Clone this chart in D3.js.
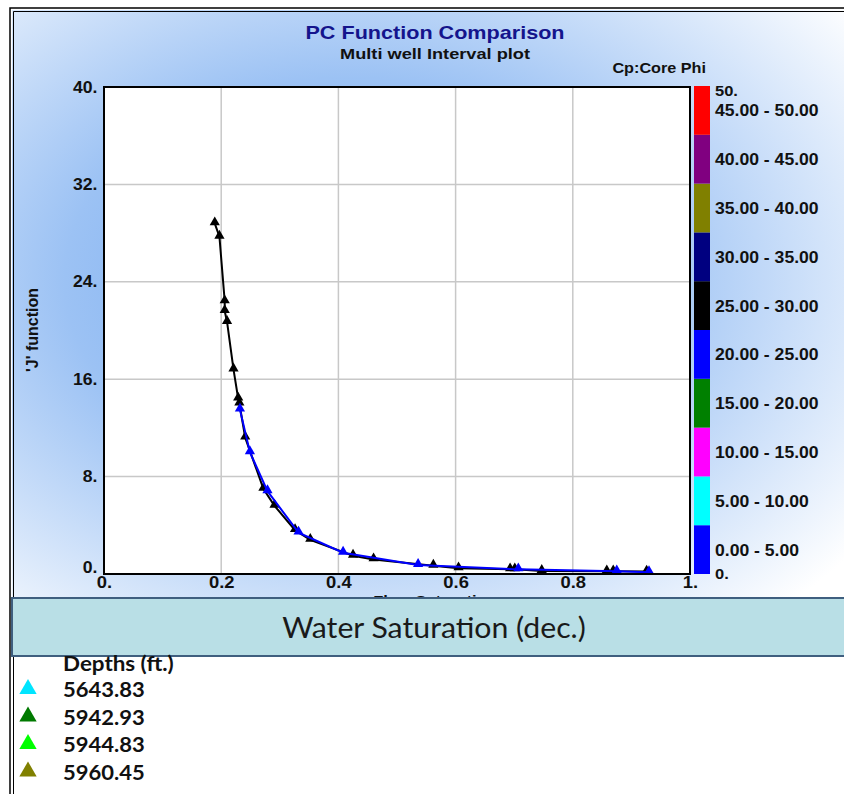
<!DOCTYPE html>
<html>
<head>
<meta charset="utf-8">
<script src="https://cdn.jsdelivr.net/npm/d3@7"></script>
<style>
  body { margin: 0; background: #fff; }
  svg text { font-family: "Liberation Sans", Arial, sans-serif; }
</style>
</head>
<body>
<div id="chart"></div>
<script>
// data
const blackSw = [0.189, 0.197, 0.206, 0.206, 0.210, 0.221, 0.229, 0.231, 0.241, 0.272, 0.291, 0.326, 0.352, 0.425, 0.46, 0.562, 0.605, 0.693, 0.701, 0.747, 0.858, 0.869, 0.926];
const blackJ = [28.8, 27.7, 22.4, 21.6, 20.7, 16.8, 14.4, 14.0, 11.2, 7.0, 5.6, 3.6, 2.8, 1.5, 1.2, 0.68, 0.47, 0.38, 0.38, 0.25, 0.22, 0.22, 0.2];
const blueSw = [0.232, 0.249, 0.279, 0.332, 0.408, 0.536, 0.707, 0.875, 0.93];
const blueJ = [13.5, 10.0, 6.8, 3.4, 1.75, 0.74, 0.38, 0.22, 0.15];

const xTicks = [0, 0.2, 0.4, 0.6, 0.8, 1];
const xTickLabels = ["0.", "0.2", "0.4", "0.6", "0.8", "1."];
const yTicks = [0, 8, 16, 24, 32, 40];
const yTickLabels = ["0.", "8.", "16.", "24.", "32.", "40."];

const phiBins = [0, 5, 10, 15, 20, 25, 30, 35, 40, 45];
const phiColors = ["#0000ff", "#00ffff", "#ff00ff", "#008000", "#0000ff", "#000000", "#000080", "#808000", "#800080", "#ff0000"];
const phiLabels = ["0.00 - 5.00", "5.00 - 10.00", "10.00 - 15.00", "15.00 - 20.00", "20.00 - 25.00", "25.00 - 30.00", "30.00 - 35.00", "35.00 - 40.00", "40.00 - 45.00", "45.00 - 50.00"];

const depths = ["5643.83", "5942.93", "5944.83", "5960.45"];
const depthColors = ["#00e5ff", "#007a00", "#00ff00", "#808000"];

const width = 844, height = 794;
const svg = d3.select("#chart").append("svg")
  .attr("width", width).attr("height", height);

// text helper, sx stretches the glyphs sideways like the original
function label(g, x, y, str, size, sx, anchor) {
  return g.append("text")
    .attr("transform", `translate(${x},${y}) scale(${sx},1)`)
    .attr("text-anchor", anchor || "start")
    .attr("font-size", size).attr("font-weight", "bold").attr("fill", "#111")
    .text(str);
}

const defs = svg.append("defs");
const grad = defs.append("radialGradient").attr("id", "bg")
  .attr("cx", "40%").attr("cy", "45%").attr("r", "75%");
grad.append("stop").attr("offset", "0%").attr("stop-color", "#6fa6f0");
grad.append("stop").attr("offset", "45%").attr("stop-color", "#9cc2f4");
grad.append("stop").attr("offset", "100%").attr("stop-color", "#ffffff");
defs.append("clipPath").attr("id", "above-band")
  .append("rect").attr("x", 0).attr("y", 0).attr("width", width).attr("height", 598);

// outer frame
svg.append("rect").attr("x", 12).attr("y", 10).attr("width", width).attr("height", 600)
  .attr("fill", "url(#bg)");
svg.append("path").attr("d", "M10,794V8H844").attr("fill", "none").attr("stroke", "#000").attr("stroke-width", 1.5);
svg.append("path").attr("d", "M13.5,794V11.5H844").attr("fill", "none").attr("stroke", "#000").attr("stroke-width", 1);

const m = { left: 104, top: 87, right: 690, bottom: 574 };
const x = d3.scaleLinear().domain([0, 1]).range([m.left, m.right]);
const y = d3.scaleLinear().domain([0, 40]).range([m.bottom, m.top]);

svg.append("rect").attr("x", m.left).attr("y", m.top)
  .attr("width", m.right - m.left).attr("height", m.bottom - m.top).attr("fill", "#fff");

// grid
svg.append("g").selectAll("line").data(xTicks.slice(1, -1)).join("line")
  .attr("x1", d => x(d)).attr("x2", d => x(d)).attr("y1", m.top).attr("y2", m.bottom)
  .attr("stroke", "#c8c8c8").attr("stroke-width", 1.5);
svg.append("g").selectAll("line").data(yTicks.slice(1, -1)).join("line")
  .attr("y1", d => y(d)).attr("y2", d => y(d)).attr("x1", m.left).attr("x2", m.right)
  .attr("stroke", "#c8c8c8").attr("stroke-width", 1.5);

// axes tick labels
const xAxis = d3.axisBottom(x).tickValues(xTicks).tickSize(0).tickPadding(3)
  .tickFormat((d, i) => xTickLabels[i]);
const gx = svg.append("g").attr("transform", `translate(0,${m.bottom})`).call(xAxis);
gx.select(".domain").remove();
gx.selectAll("text").attr("font-size", 16).attr("font-weight", "bold")
  .attr("font-family", "Liberation Sans, Arial").attr("fill", "#111")
  .attr("transform", "scale(1.15,1)");

const yAxis = d3.axisLeft(y).tickValues(yTicks).tickSize(0).tickPadding(6)
  .tickFormat((d, i) => yTickLabels[i]);
const gy = svg.append("g").attr("transform", `translate(${m.left},0)`).call(yAxis);
gy.select(".domain").remove();
gy.selectAll("text").attr("font-size", 16).attr("font-weight", "bold")
  .attr("font-family", "Liberation Sans, Arial").attr("fill", "#111")
  .attr("transform", "scale(1.1,1)");
gy.selectAll(".tick").filter(d => d === 0).select("text").attr("dy", "-0.1em");

// x label, mostly hidden behind the band as in the original
const hidden = svg.append("g").attr("clip-path", "url(#above-band)");
label(hidden, 435, 606, "Flow Saturation", 15, 1.1, "middle");

// series
const tri = d3.symbol().type(d3.symbolTriangle).size(45);
function drawSeries(sw, jv, color) {
  const pts = sw.map((s, i) => [s, jv[i]]);
  svg.append("path").datum(pts)
    .attr("d", d3.line().x(d => x(d[0])).y(d => y(d[1])))
    .attr("fill", "none").attr("stroke", color).attr("stroke-width", 2);
  svg.append("g").selectAll("path").data(pts).join("path")
    .attr("d", tri)
    .attr("transform", d => `translate(${x(d[0])},${y(d[1]) - 1})`)
    .attr("fill", color);
}
drawSeries(blackSw, blackJ, "#000");
drawSeries(blueSw, blueJ, "#0000ff");

// plot border
svg.append("rect").attr("x", m.left).attr("y", m.top)
  .attr("width", m.right - m.left).attr("height", m.bottom - m.top)
  .attr("fill", "none").attr("stroke", "#000").attr("stroke-width", 2);

// colour bar
const c = d3.scaleLinear().domain([0, 50]).range([m.bottom, m.top - 1]);
const bar = svg.append("g");
bar.selectAll("rect").data(phiBins).join("rect")
  .attr("x", 694).attr("width", 16)
  .attr("y", d => c(d + 5)).attr("height", d => c(d) - c(d + 5))
  .attr("fill", (d, i) => phiColors[i]);
phiBins.forEach((d, i) => label(bar, 715, c(d + 2.5) + 6, phiLabels[i], 16, 1.1));
label(bar, 715, c(50) + 10, "50.", 15, 1.1);
label(bar, 715, c(0) + 5, "0.", 15, 1.1);
label(svg, 706, 73, "Cp:Core Phi", 15, 1.08, "end");

// titles
label(svg, 435, 39, "PC Function Comparison", 18, 1.2, "middle").attr("fill", "#14148c");
label(svg, 435, 59, "Multi well Interval plot", 14, 1.3, "middle");
svg.append("text").attr("transform", "translate(38,330) rotate(-90)")
  .attr("text-anchor", "middle").attr("font-size", 16).attr("font-weight", "bold")
  .attr("fill", "#111").text("'J' function");

// Water saturation band
svg.append("rect").attr("x", 12).attr("y", 598).attr("width", 840).attr("height", 58)
  .attr("fill", "#b9dfe6").attr("stroke", "#3f5f7f").attr("stroke-width", 2);
svg.append("text").attr("transform", "translate(434,638) scale(1.08,1)").attr("text-anchor", "middle")
  .attr("font-size", 28).attr("fill", "#1a1a1a").style("font-family", "Lato, 'Open Sans', sans-serif")
  .text("Water Saturation (dec.)");

// depth legend
label(svg, 63, 671, "Depths (ft.)", 20, 1.12).style("font-family", "Lato, sans-serif");
const leg = svg.append("g").selectAll("g").data(depths).join("g")
  .attr("transform", (d, i) => `translate(0,${697 + i * 27.5})`);
leg.append("path").attr("d", d3.symbol().type(d3.symbolTriangle).size(130))
  .attr("transform", "translate(28,-8)").attr("fill", (d, i) => depthColors[i]);
leg.each(function (d) {
  label(d3.select(this), 63, 0, d, 20, 1.1).style("font-family", "Lato, sans-serif");
});
</script>
</body>
</html>
